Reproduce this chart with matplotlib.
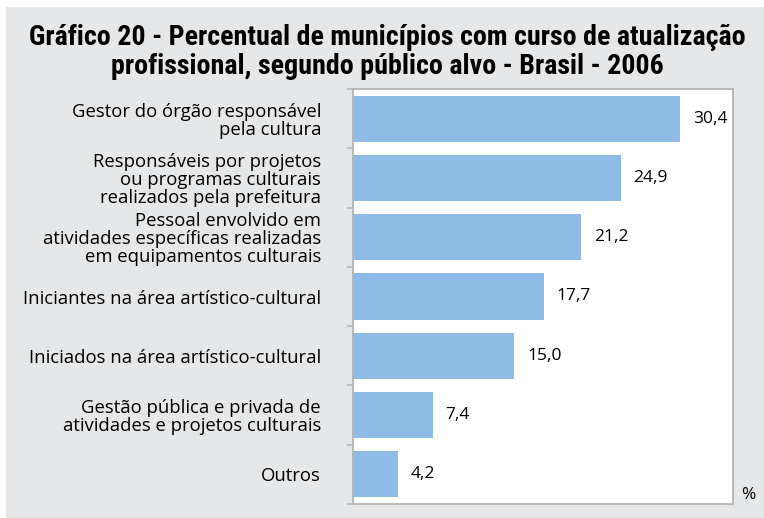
import numpy as np
import matplotlib.pyplot as plt

# Dados do grafico
categorias = [
    "Gestor do órgão responsável\npela cultura",
    "Responsáveis por projetos\nou programas culturais\nrealizados pela prefeitura",
    "Pessoal envolvido em\natividades específicas realizadas\nem equipamentos culturais",
    "Iniciantes na área artístico-cultural",
    "Iniciados na área artístico-cultural",
    "Gestão pública e privada de\natividades e projetos culturais",
    "Outros",
]
valores = [30.4, 24.9, 21.2, 17.7, 15.0, 7.4, 4.2]
titulo = ("Gráfico 20 - Percentual de municípios com curso de atualização\n"
          "profissional, segundo público alvo - Brasil - 2006")

fundo = "#e6e7e8"
cor_barra = "#8dbbe6"
borda = "#b4b4b4"
fonte = ["Open Sans", "DejaVu Sans"]
fonte_titulo = ["DejaVu Sans Condensed", "Roboto Condensed", "Liberation Sans", "DejaVu Sans"]

fig = plt.figure(figsize=(7.64, 5.18), dpi=100, facecolor="white")
# faixa cinza (margem branca em cima e na esquerda)
fig.patches.append(plt.Rectangle((6 / 764, 0), 1, 1 - 7 / 518, transform=fig.transFigure,
                                 facecolor=fundo, edgecolor="none", zorder=-10))

ax = fig.add_axes([353 / 764, 14 / 518, 380 / 764, 415 / 518])
ax.set_facecolor("white")

y = np.arange(len(categorias))
ax.barh(y, valores, height=0.78, color=cor_barra)
ax.set_ylim(len(categorias) - 0.5, -0.5)
ax.set_xlim(0, 35.3)

for yi, v in zip(y, valores):
    ax.annotate(f"{v:.1f}".replace(".", ","), (v, yi), xytext=(9, 0),
                textcoords="offset points", va="center", ha="left",
                fontsize=12.5, family=fonte)

ax.set_yticks(y)
ax.set_yticklabels(categorias, fontsize=13.3, family=fonte,
                   multialignment="right", linespacing=1.0)
ax.tick_params(axis="y", which="major", length=0, pad=23)
ax.set_yticks(np.arange(-0.5, len(categorias)), minor=True)
ax.tick_params(axis="y", which="minor", length=4, width=1.2, color=borda, direction="out")
ax.set_xticks([])

for s in ax.spines.values():
    s.set_color(borda)
    s.set_linewidth(1.3)

fig.text(748 / 764, 1 - 495 / 518, "%", fontsize=12.5, family=fonte,
         ha="center", va="center")
fig.text(387 / 764, 1 - 52 / 518, titulo, fontsize=20.2, fontweight="bold",
         family=fonte_titulo, ha="center", va="center", linespacing=1.1)

fig.savefig("out.png", dpi=100, facecolor=fig.get_facecolor())
